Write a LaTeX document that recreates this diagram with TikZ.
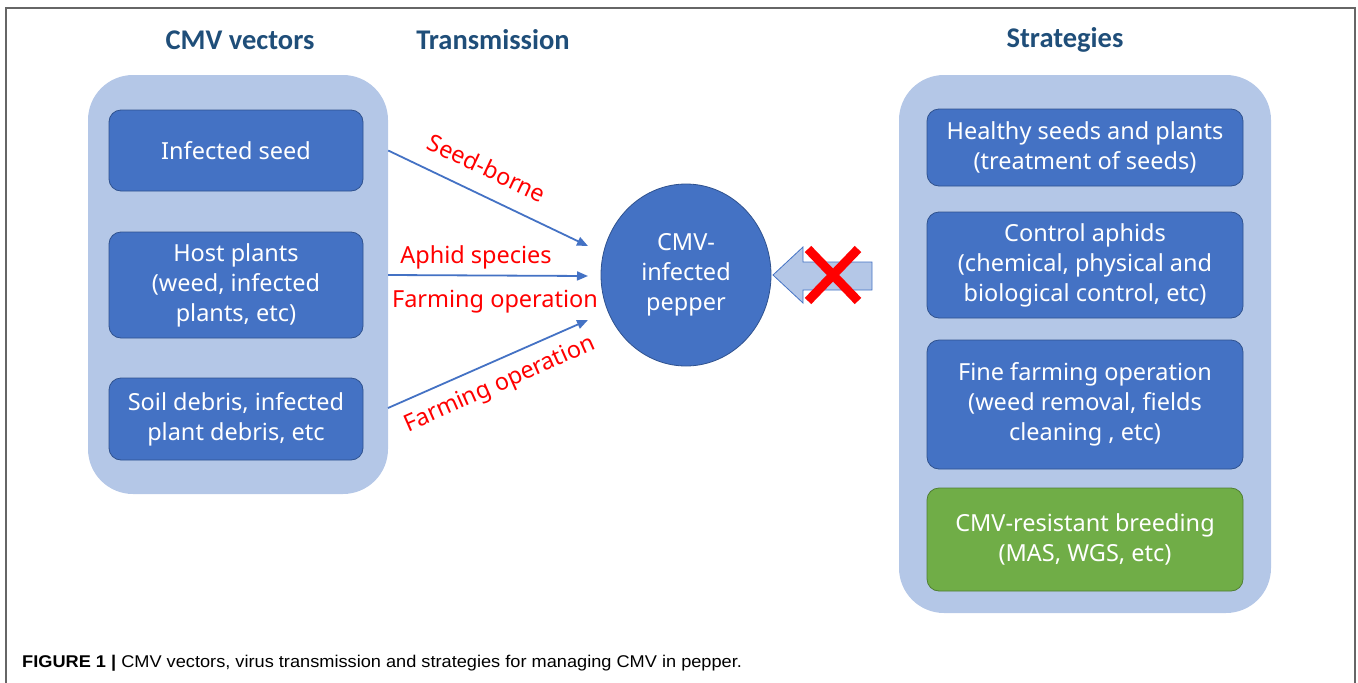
\documentclass[tikz,border=0pt]{standalone}
\usepackage{fontspec}
\setmainfont{Noto Sans}
\newfontfamily\headfont{Carlito}
\newfontfamily\capfont[FakeStretch=1.07]{Liberation Sans}
\usetikzlibrary{arrows.meta,shapes.geometric}
\definecolor{grpblue}{HTML}{B4C7E7}
\definecolor{boxblue}{HTML}{4472C4}
\definecolor{edgeblue}{HTML}{2F528F}
\definecolor{boxgreen}{HTML}{70AD47}
\definecolor{edgegreen}{HTML}{507E32}
\definecolor{headblue}{HTML}{1F4E79}
\definecolor{labelred}{HTML}{FF0000}
\tikzset{
  group/.style={fill=grpblue, draw=none, rounded corners=45pt, inner sep=0pt},
  card/.style={fill=boxblue, draw=edgeblue, line width=0.8pt, rounded corners=12pt,
    text=white, align=center, font=\fontsize{23.5}{30}\selectfont, inner sep=0pt},
  greencard/.style={card, fill=boxgreen, draw=edgegreen},
  heading/.style={text=headblue, font=\headfont\bfseries\fontsize{28.5}{30}\selectfont},
  route/.style={draw=boxblue, line width=1.8pt, -{Triangle[length=11pt,width=9pt]}},
  routelabel/.style={text=labelred, font=\fontsize{23.5}{26}\selectfont, inner sep=0pt},
}
\begin{document}
\begin{tikzpicture}[x=1pt,y=-1pt]
\useasboundingbox (0,0) rectangle (1358,683);
% outer frame, open at the bottom
\draw[gray!80!black, line width=1.2pt] (6,683) -- (6,8) -- (1355,8) -- (1355,683);

% column headings
\node[heading] (hvec) at (240,40) {CMV vectors};
\node[heading] (htra) at (493,40) {Transmission};
\node[heading] (hstr) at (1065,40) {Strategies};

% sources of infection
\node[group, minimum width=300pt, minimum height=419pt] (lgrp) at (238,284.5) {};
\node[card, minimum width=254pt, minimum height=81pt] (seed) at (236,150.5) {Infected seed};
\node[card, minimum width=254pt, minimum height=106pt] (host) at (236,285) {Host plants\\(weed, infected\\plants, etc)};
\node[card, minimum width=254pt, minimum height=82pt] (soil) at (236,419) {Soil debris, infected\\plant debris, etc};

% infected crop
\node[ellipse, fill=boxblue, draw=edgeblue, line width=0.8pt, minimum width=170pt, minimum height=182pt,
  text=white, align=center, font=\fontsize{23.5}{30}\selectfont, inner sep=0pt] (pep) at (686,275)
  {CMV-\\infected\\pepper};

% management strategies
\node[group, minimum width=372pt, minimum height=538pt] (rgrp) at (1085,344) {};
\node[card, minimum width=316pt, minimum height=77pt] (healthy) at (1085,147.5) {Healthy seeds and plants\\(treatment of seeds)};
\node[card, minimum width=316pt, minimum height=106pt] (aphids) at (1085,265) {Control aphids\\(chemical, physical and\\biological control, etc)};
\node[card, minimum width=316pt, minimum height=129pt] (fine) at (1085,404.5) {Fine farming operation\\(weed removal, fields\\cleaning , etc)};
\node[greencard, minimum width=316pt, minimum height=103pt] (breed) at (1085,539.5) {CMV-resistant breeding\\(MAS, WGS, etc)};

% transmission routes
\coordinate (t1) at (588,246);
\coordinate (t2) at (588,276);
\coordinate (t3) at (588,320);
\coordinate (s3) at (388,408);
\draw[route] (lgrp.east |- seed) -- (t1);
\draw[route] (lgrp.east |- pep) -- (t2);
\draw[route] (s3) -- (t3);
\node[routelabel, rotate=-25.3] (lseed) at (487,168) {Seed-borne};
\node[routelabel] (laph) at (476,257) {Aphid species};
\node[routelabel] (lfar) at (495,302) {Farming operation};
\node[routelabel, rotate=23.9] (lfar2) at (500,385) {Farming operation};

% blocked arrow
\draw[fill=grpblue, draw=boxblue, line width=0.8pt]
  (773,275) -- (803,247) -- (803,262) -- (872,262) -- (872,290) -- (803,290) -- (803,303) -- cycle;
\draw[labelred, line width=9pt] (808,249) -- (858,301) (858,249) -- (808,301);

% caption
\node[anchor=base west, inner sep=0pt, font=\capfont\fontsize{17}{20}\selectfont] (cap) at (22,667)
  {\textbf{FIGURE 1 |} CMV vectors, virus transmission and strategies for managing CMV in pepper.};
\end{tikzpicture}
\end{document}
